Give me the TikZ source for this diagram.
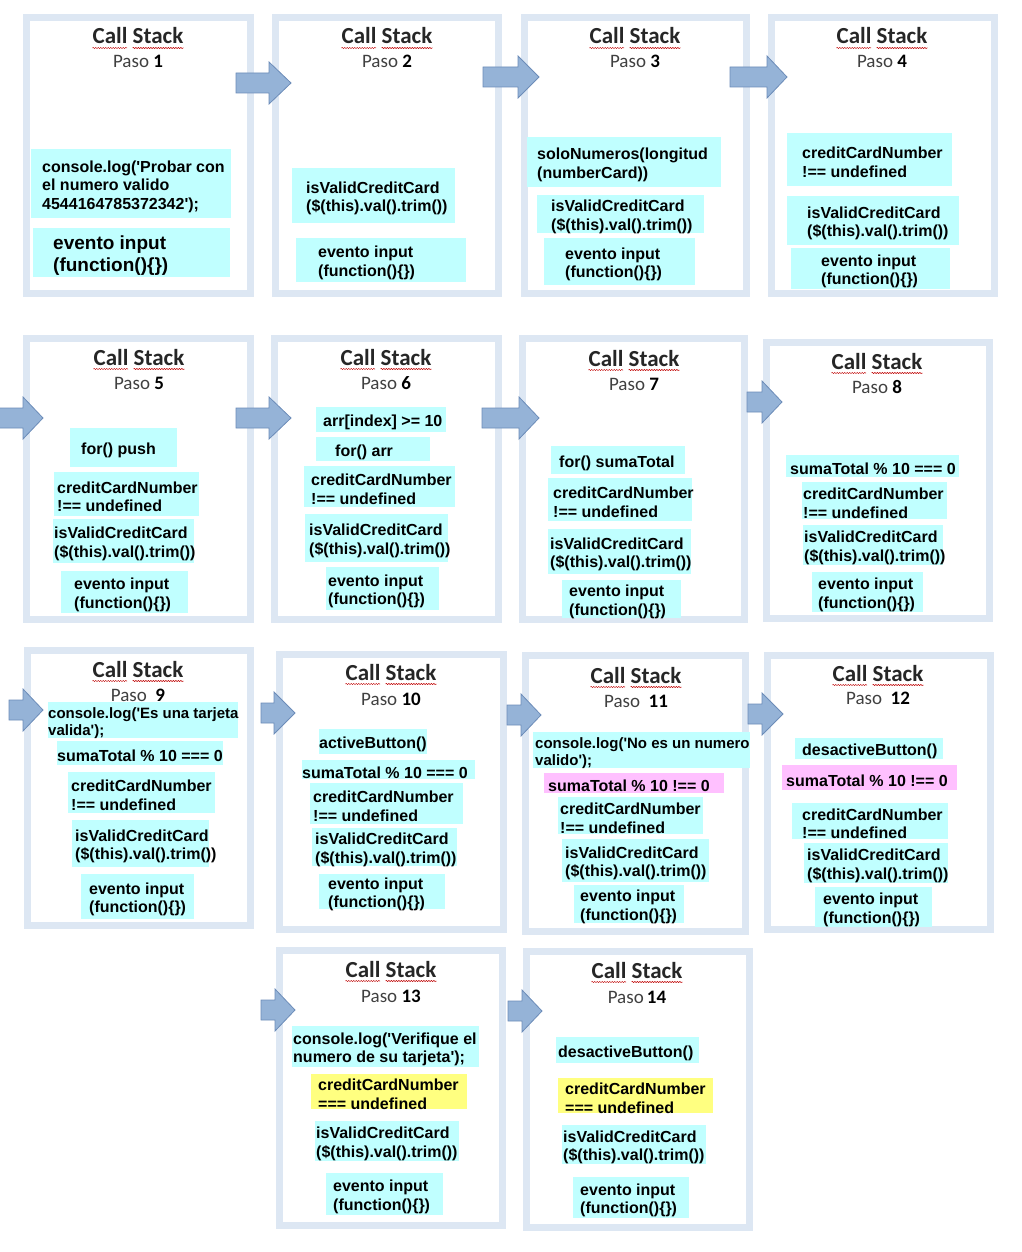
\documentclass[tikz,border=0pt]{standalone}
\usepackage{fontspec}
\setmainfont{Liberation Sans}
\newfontfamily\calibfont{Carlito}
\usepackage{tikz}
\usetikzlibrary{calc}
\usetikzlibrary{decorations.pathmorphing}
\definecolor{framecol}{RGB}{221,231,243}
\definecolor{arrfill}{RGB}{149,179,215}
\definecolor{arrline}{RGB}{108,140,184}
\definecolor{cyanbox}{RGB}{192,255,255}
\definecolor{pinkbox}{RGB}{255,192,255}
\definecolor{yellowbox}{RGB}{255,255,128}
\definecolor{pasogray}{RGB}{64,64,64}
\tikzset{
  stacktitle/.style={inner sep=0pt, anchor=base, font=\calibfont\fontsize{23}{27}\selectfont\bfseries, text=black!85},
  pasolabel/.style={inner sep=0pt, anchor=base, font=\calibfont\fontsize{19}{22}\selectfont, text=pasogray},
  boxtext/.style={inner sep=0pt, anchor=west, yshift=-3pt, align=left, font=\fontsize{16}{18.5}\selectfont\bfseries},
  smalltext/.style={font=\fontsize{15}{17.5}\selectfont\bfseries},
  bigtext/.style={font=\fontsize{19}{22.5}\selectfont\bfseries},
  squiggle/.style={draw=red!75!black, line width=0.5pt, decorate, decoration={snake, amplitude=0.6pt, segment length=2.5pt}},
  frameline/.style={draw=framecol, line width=7pt},
  blockarrow/.style={fill=arrfill, draw=arrline, line width=0.8pt, line join=miter}
}
\newcommand{\q}{\textquotesingle}
\newcommand{\pnum}[1]{\textcolor{black}{\textbf{#1}}}
\newcommand{\stackframe}[4]{\draw[frameline] ({#1+3.5},{#2+3.5}) rectangle ({#3-3.5},{#4-3.5});}
\newcommand{\callstack}[5]{
  \node[stacktitle] (t#1) at (#2,#3) {Call Stack};
  \node[pasolabel] (p#1) at (#2,#4) {#5};
  \draw[squiggle] ($(t#1.base west)+(0,4)$) -- ($(t#1.base west)!0.38!(t#1.base east)+(0,4)$);
  \draw[squiggle] ($(t#1.base west)!0.44!(t#1.base east)+(0,4)$) -- ($(t#1.base east)+(0,4)$);}
\newcommand{\stackblock}[9][]{
  \fill[#7] (#3,#4) rectangle (#5,#6);
  \node[boxtext,#1] (#2) at (#8,{(#4+#6)/2}) {#9};}
\newcommand{\blockarr}[4]{\draw[blockarrow] (#1,{#4-10}) -- (#2,{#4-10}) -- (#2,{#4-21}) -- (#3,#4) -- (#2,{#4+21}) -- (#2,{#4+10}) -- (#1,{#4+10}) -- cycle;}
\begin{document}
\begin{tikzpicture}[x=1pt,y=-1pt]
    \useasboundingbox (0,0) rectangle (1021,1252);
    % row1
    \stackframe{23}{14}{254}{297}
    \stackframe{272}{14}{502}{297}
    \stackframe{521}{14}{750}{297}
    \stackframe{768}{14}{998}{297}
    \callstack{1}{138}{44}{68}{Paso \pnum{1}}
    \callstack{2}{387}{44}{68}{Paso \pnum{2}}
    \callstack{3}{635}{44}{68}{Paso \pnum{3}}
    \callstack{4}{882}{44}{68}{Paso \pnum{4}}
    % blocks for row1
    \stackblock{b1a}{31}{149}{231}{218}{cyanbox}{42}{console.log(\q Probar con\\el numero valido\\4544164785372342\q);}
    \stackblock[bigtext]{b1b}{33}{228}{230}{277}{cyanbox}{53}{evento input\\(function()\{\})}
    \stackblock{b2a}{292}{168}{455}{223}{cyanbox}{306}{isValidCreditCard\\(\$(this).val().trim())}
    \stackblock{b2b}{296}{238}{466}{282}{cyanbox}{318}{evento input\\(function()\{\})}
    \stackblock{b3a}{527}{137}{721}{187}{cyanbox}{537}{soloNumeros(longitud\\(numberCard))}
    \stackblock{b3b}{537}{195}{704}{233}{cyanbox}{551}{isValidCreditCard\\(\$(this).val().trim())}
    \stackblock{b3c}{544}{238}{695}{285}{cyanbox}{565}{evento input\\(function()\{\})}
    \stackblock{b4a}{787}{133}{952}{186}{cyanbox}{802}{creditCardNumber\\!== undefined}
    \stackblock{b4b}{787}{196}{959}{245}{cyanbox}{807}{isValidCreditCard\\(\$(this).val().trim())}
    \stackblock{b4c}{791}{248}{950}{289}{cyanbox}{821}{evento input\\(function()\{\})}
    % arrows for row1
    \blockarr{236}{269}{291}{83}
    \blockarr{483}{518}{539}{77}
    \blockarr{730}{767}{787}{77}

    % row2
    \stackframe{23}{335}{254}{623}
    \stackframe{271}{335}{502}{623}
    \stackframe{519}{335}{748}{623}
    \stackframe{763}{339}{993}{622}
    \callstack{5}{139}{365}{389}{Paso \pnum{5}}
    \callstack{6}{386}{365}{389}{Paso \pnum{6}}
    \callstack{7}{634}{366}{390}{Paso \pnum{7}}
    \callstack{8}{877}{369}{393}{Paso \pnum{8}}
    % blocks for row2
    \stackblock{b5a}{70}{428}{177}{467}{cyanbox}{81}{for() push}
    \stackblock{b5b}{54}{472}{199}{516}{cyanbox}{57}{creditCardNumber\\!== undefined}
    \stackblock{b5c}{53}{519}{194}{563}{cyanbox}{54}{isValidCreditCard\\(\$(this).val().trim())}
    \stackblock{b5d}{61}{571}{188}{613}{cyanbox}{74}{evento input\\(function()\{\})}
    \stackblock{b6a}{316}{407}{446}{432}{cyanbox}{323}{arr[index] >= 10}
    \stackblock{b6b}{316}{437}{430}{461}{cyanbox}{335}{for() arr}
    \stackblock{b6c}{304}{466}{455}{507}{cyanbox}{311}{creditCardNumber\\!== undefined}
    \stackblock{b6d}{305}{514}{448}{562}{cyanbox}{309}{isValidCreditCard\\(\$(this).val().trim())}
    \stackblock{b6e}{326}{567}{439}{610}{cyanbox}{328}{evento input\\(function()\{\})}
    \stackblock{b7a}{551}{446}{685}{474}{cyanbox}{559}{for() sumaTotal}
    \stackblock{b7b}{548}{478}{692}{521}{cyanbox}{553}{creditCardNumber\\!== undefined}
    \stackblock{b7c}{548}{529}{691}{574}{cyanbox}{550}{isValidCreditCard\\(\$(this).val().trim())}
    \stackblock{b7d}{562}{580}{681}{618}{cyanbox}{569}{evento input\\(function()\{\})}
    \stackblock{b8a}{786}{455}{959}{477}{cyanbox}{790}{sumaTotal \% 10 === 0}
    \stackblock{b8b}{802}{482}{947}{519}{cyanbox}{803}{creditCardNumber\\!== undefined}
    \stackblock{b8c}{803}{525}{943}{565}{cyanbox}{804}{isValidCreditCard\\(\$(this).val().trim())}
    \stackblock{b8d}{812}{572}{923}{612}{cyanbox}{818}{evento input\\(function()\{\})}
    % arrows for row2
    \blockarr{-5}{23}{43}{418}
    \blockarr{236}{269}{291}{418}
    \blockarr{482}{519}{539}{418}
    \blockarr{747}{762}{782}{402}

    % row3
    \stackframe{24}{647}{254}{929}
    \stackframe{276}{651}{507}{933}
    \stackframe{522}{652}{749}{935}
    \stackframe{764}{652}{994}{933}
    \callstack{9}{138}{677}{701}{Paso~~\pnum{9}}
    \callstack{10}{391}{680}{705}{Paso \pnum{10}}
    \callstack{11}{636}{683}{707}{Paso~~\pnum{11}}
    \callstack{12}{878}{681}{704}{Paso~~\pnum{12}}
    % blocks for row3
    \stackblock[smalltext]{b9a}{48}{702}{238}{738}{cyanbox}{48}{console.log(\q Es una tarjeta\\valida\q);}
    \stackblock{b9b}{57}{741}{223}{765}{cyanbox}{57}{sumaTotal \% 10 === 0}
    \stackblock{b9c}{68}{772}{215}{813}{cyanbox}{71}{creditCardNumber\\!== undefined}
    \stackblock{b9d}{72}{820}{209}{867}{cyanbox}{75}{isValidCreditCard\\(\$(this).val().trim())}
    \stackblock{b9e}{81}{874}{194}{919}{cyanbox}{89}{evento input\\(function()\{\})}
    \stackblock{b10a}{319}{729}{427}{754}{cyanbox}{319}{activeButton()}
    \stackblock{b10b}{302}{760}{475}{779}{cyanbox}{302}{sumaTotal \% 10 === 0}
    \stackblock{b10c}{310}{783}{463}{824}{cyanbox}{313}{creditCardNumber\\!== undefined}
    \stackblock{b10d}{312}{828}{457}{866}{cyanbox}{315}{isValidCreditCard\\(\$(this).val().trim())}
    \stackblock{b10e}{319}{874}{445}{909}{cyanbox}{328}{evento input\\(function()\{\})}
    \stackblock[smalltext]{b11a}{533}{732}{750}{768}{cyanbox}{535}{console.log(\q No es un numero\\valido\q);}
    \stackblock{b11b}{544}{773}{724}{793}{pinkbox}{548}{sumaTotal \% 10 !== 0}
    \stackblock{b11c}{558}{797}{703}{834}{cyanbox}{560}{creditCardNumber\\!== undefined}
    \stackblock{b11d}{562}{839}{709}{882}{cyanbox}{565}{isValidCreditCard\\(\$(this).val().trim())}
    \stackblock{b11e}{574}{885}{684}{923}{cyanbox}{580}{evento input\\(function()\{\})}
    \stackblock{b12a}{795}{738}{943}{759}{cyanbox}{802}{desactiveButton()}
    \stackblock{b12b}{782}{765}{957}{790}{pinkbox}{786}{sumaTotal \% 10 !== 0}
    \stackblock{b12c}{792}{803}{948}{839}{cyanbox}{802}{creditCardNumber\\!== undefined}
    \stackblock{b12d}{804}{843}{948}{883}{cyanbox}{807}{isValidCreditCard\\(\$(this).val().trim())}
    \stackblock{b12e}{815}{887}{932}{927}{cyanbox}{823}{evento input\\(function()\{\})}
    % arrows for row3
    \blockarr{9}{23}{43}{710}
    \blockarr{261}{274}{295}{713}
    \blockarr{507}{521}{541}{715}
    \blockarr{748}{762}{783}{714}

    % row4
    \stackframe{276}{947}{506}{1229}
    \stackframe{523}{948}{753}{1231}
    \callstack{13}{391}{977}{1002}{Paso \pnum{13}}
    \callstack{14}{637}{978}{1003}{Paso\,\pnum{14}}
    % blocks for row4
    \stackblock{b13a}{292}{1026}{479}{1067}{cyanbox}{293}{console.log(\q Verifique el\\numero de su tarjeta\q);}
    \stackblock{b13b}{311}{1074}{467}{1109}{yellowbox}{318}{creditCardNumber\\=== undefined}
    \stackblock{b13c}{315}{1121}{459}{1161}{cyanbox}{316}{isValidCreditCard\\(\$(this).val().trim())}
    \stackblock{b13d}{326}{1173}{443}{1215}{cyanbox}{333}{evento input\\(function()\{\})}
    \stackblock{b14a}{556}{1037}{699}{1063}{cyanbox}{558}{desactiveButton()}
    \stackblock{b14b}{558}{1078}{713}{1113}{yellowbox}{565}{creditCardNumber\\=== undefined}
    \stackblock{b14c}{562}{1125}{706}{1164}{cyanbox}{563}{isValidCreditCard\\(\$(this).val().trim())}
    \stackblock{b14d}{573}{1177}{689}{1218}{cyanbox}{580}{evento input\\(function()\{\})}
    % arrows for row4
    \blockarr{261}{275}{295}{1010}
    \blockarr{508}{522}{542}{1011}
\end{tikzpicture}
\end{document}
